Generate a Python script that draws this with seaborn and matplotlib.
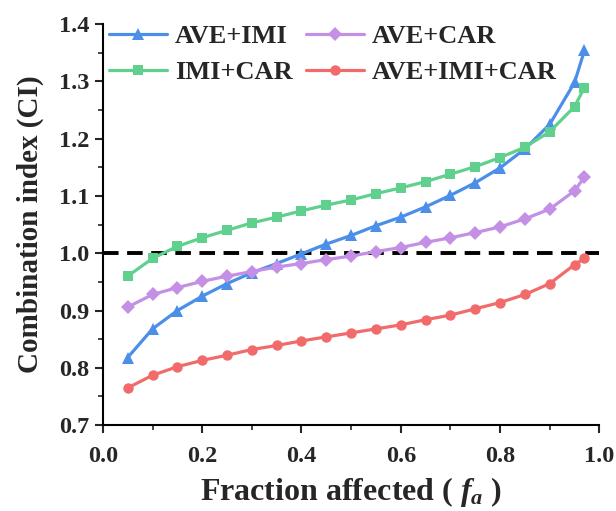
import numpy as np
import pandas as pd
import seaborn as sns
import matplotlib.pyplot as plt
from matplotlib.ticker import MultipleLocator

# ==========================
# DATA
# ==========================
fa = [0.05, 0.10, 0.15, 0.20, 0.25, 0.30, 0.35, 0.40, 0.45, 0.50,
      0.55, 0.60, 0.65, 0.70, 0.75, 0.80, 0.85, 0.90, 0.95, 0.97]

ave_imi = [0.818, 0.868, 0.900, 0.925, 0.947, 0.966, 0.982, 0.999, 1.016, 1.031,
           1.048, 1.063, 1.081, 1.101, 1.123, 1.149, 1.182, 1.225, 1.298, 1.354]
ave_car = [0.906, 0.928, 0.940, 0.951, 0.960, 0.968, 0.976, 0.982, 0.989, 0.995,
           1.003, 1.010, 1.019, 1.027, 1.036, 1.046, 1.060, 1.077, 1.109, 1.133]
imi_car = [0.960, 0.991, 1.012, 1.027, 1.040, 1.053, 1.063, 1.074, 1.084, 1.093,
           1.104, 1.114, 1.125, 1.138, 1.151, 1.167, 1.185, 1.212, 1.256, 1.289]
ave_imi_car = [0.765, 0.787, 0.802, 0.813, 0.822, 0.832, 0.839, 0.847, 0.854, 0.861,
               0.868, 0.875, 0.884, 0.892, 0.903, 0.914, 0.928, 0.947, 0.980, 0.991]

series = [
    ("AVE+IMI", ave_imi, "#4b8fe8", "^", 8.5),
    ("AVE+CAR", ave_car, "#c490e6", "D", 7),
    ("IMI+CAR", imi_car, "#5fd08e", "s", 6.5),
    ("AVE+IMI+CAR", ave_imi_car, "#f26b6b", "o", 7.5),
]

# ==========================
# PLOT
# ==========================
sns.set_style("ticks")
plt.rcParams["font.family"] = ["Liberation Serif", "DejaVu Serif"]
plt.rcParams["font.weight"] = "bold"
plt.rcParams["mathtext.fontset"] = "custom"
plt.rcParams["mathtext.it"] = "Liberation Serif:italic:bold"
plt.rcParams["mathtext.rm"] = "Liberation Serif:bold"
plt.rcParams["mathtext.bf"] = "Liberation Serif:bold"

fig = plt.figure(figsize=(6.16, 5.11), dpi=100)
ax = fig.add_axes([0.167, 0.168, 0.806, 0.785])

ax.axhline(1.0, color="black", lw=2.8, ls=(0, (4, 2.2)), zorder=1)

for name, vals, col, mk, ms in series:
    df = pd.DataFrame({"fa": fa, "CI": vals})
    sns.lineplot(data=df, x="fa", y="CI", ax=ax, color=col, marker=mk,
                 markersize=ms, markeredgewidth=0, linewidth=2.3, label=name,
                 zorder=3)

ax.set_xlim(0, 1.0)
ax.set_ylim(0.7, 1.4)
ax.xaxis.set_major_locator(MultipleLocator(0.2))
ax.xaxis.set_minor_locator(MultipleLocator(0.1))
ax.yaxis.set_major_locator(MultipleLocator(0.1))
ax.yaxis.set_minor_locator(MultipleLocator(0.05))
ax.tick_params(which="major", direction="out", length=6, width=1.5, labelsize=17.5)
ax.tick_params(which="minor", direction="out", length=3.5, width=1.2)
ax.tick_params(axis="x", which="major", pad=9)
for lab in ax.get_xticklabels() + ax.get_yticklabels():
    lab.set_fontweight("bold")

sns.despine(ax=ax)
for sp in ["left", "bottom"]:
    ax.spines[sp].set_linewidth(1.5)
    ax.spines[sp].set_color("black")

ax.set_xlabel(r"Fraction affected ( $\mathit{f_a}$ )", fontsize=23,
              fontweight="bold", labelpad=6)
ax.set_ylabel("Combination index (CI)", fontsize=21, fontweight="bold", labelpad=11)

# legend order: row1 AVE+IMI, AVE+CAR ; row2 IMI+CAR, AVE+IMI+CAR
handles, labels = ax.get_legend_handles_labels()
order = [0, 2, 1, 3]
ax.legend([handles[i] for i in order], [labels[i] for i in order],
          ncol=2, loc="upper left", bbox_to_anchor=(-0.02, 1.038), frameon=False,
          prop={"size": 19, "weight": "bold"}, handlelength=2.2,
          columnspacing=0.5, handletextpad=0.3, labelspacing=0.48,
          borderaxespad=0.2)

plt.savefig("out.png", dpi=100)
